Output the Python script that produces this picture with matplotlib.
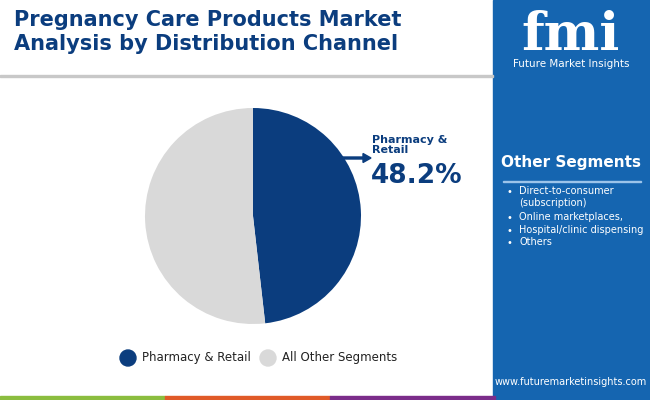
import matplotlib.pyplot as plt
from matplotlib.patches import Rectangle, FancyArrow, Ellipse

labels = ["Pharmacy & Retail", "All Other Segments"]
shares = [48.2, 51.8]
colors = ["#0b3d7e", "#d9d9d9"]
other_segments = ["Direct-to-consumer\n(subscription)", "Online marketplaces,",
                  "Hospital/clinic dispensing", "Others"]

W, H = 650, 400
fig = plt.figure(figsize=(6.5, 4), dpi=100)
fig.patch.set_facecolor("white")

def px(x, y):
    return x / W, 1 - y / H

# right panel
fig.patches.append(Rectangle(px(493, 400), 157 / W, 1, transform=fig.transFigure,
                             color="#1565b0", zorder=0))
# bottom strip
for x0, c in [(0, "#8bbd3f"), (165, "#e05a28"), (330, "#7b2d8a")]:
    fig.patches.append(Rectangle(px(x0, 400), 165 / W, 4 / H, transform=fig.transFigure,
                                 color=c, zorder=1))
# separator line under title
fig.patches.append(Rectangle(px(0, 77), 493 / W, 1.5 / H, transform=fig.transFigure,
                             color="#c8c8c8", zorder=1))

fig.text(*px(14, 32), "Pregnancy Care Products Market\nAnalysis by Distribution Channel",
         fontsize=15, fontweight="bold", color="#0b3d7e", va="center",
         family="DejaVu Sans", linespacing=1.2)

# logo text
fig.text(*px(571, 35), "fmi", fontsize=38, fontweight="bold", color="white",
         ha="center", va="center", family="DejaVu Serif")
fig.text(*px(571, 64), "Future Market Insights", fontsize=7.5, color="white",
         ha="center", va="center")

fig.text(*px(571, 163), "Other Segments", fontsize=11, fontweight="bold",
         color="white", ha="center", va="center", family="DejaVu Sans")
fig.patches.append(Rectangle(px(503, 182), 138 / W, 1 / H, transform=fig.transFigure,
                             color="#9cc4ea", zorder=1))
ys = [192, 218, 231, 243]
for y, s in zip(ys, other_segments):
    fig.text(*px(507, y), "•", fontsize=7, color="white", va="center")
    fig.text(*px(519, y - 6), s, fontsize=7, color="white", va="top", linespacing=1.25)
fig.text(*px(571, 382), "www.futuremarketinsights.com", fontsize=7,
         color="white", ha="center", va="center")

# pie
R = 108
ax = fig.add_axes([(253 - R) / W, 1 - (216 + R) / H, 2 * R / W, 2 * R / H])
ax.pie(shares, colors=colors, startangle=90, counterclock=False,
       wedgeprops=dict(linewidth=0))
ax.set_xlim(-1, 1)
ax.set_ylim(-1, 1)
ax.set_aspect("equal")

fig.patches.append(FancyArrow(*px(340, 158), 23 / W, 0, width=2 / H,
                              head_width=9 / H, head_length=8 / W,
                              transform=fig.transFigure, color="#0b3d7e"))
fig.text(*px(372, 145), "Pharmacy &\nRetail", fontsize=8, fontweight="bold",
         color="#0b3d7e", va="center", linespacing=1.1)
fig.text(*px(371, 176), f"{shares[0]}%", fontsize=19, fontweight="bold",
         color="#0b3d7e", va="center", family="DejaVu Sans")

# legend
lx = [128, 268]
for x, lab, c in zip(lx, labels, colors):
    fig.patches.append(Ellipse(px(x, 358), 16 / W, 16 / H, transform=fig.transFigure,
                               color=c))
    fig.text(*px(x + 14, 358), lab, fontsize=8.5, color="#222222", va="center")

fig.savefig("out.png", dpi=100)
